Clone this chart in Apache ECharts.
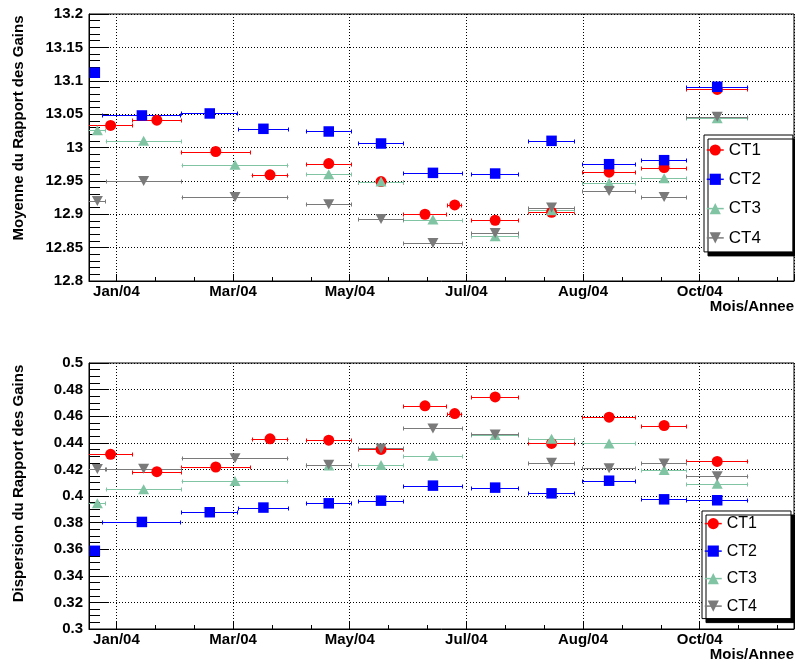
<!DOCTYPE html>
<html>
<head>
<meta charset="utf-8">
<script src="https://cdn.jsdelivr.net/npm/echarts@6/dist/echarts.min.js"></script>
<style>
html,body{margin:0;padding:0;background:#ffffff;}
#chart{width:795px;height:665px;}
</style>
</head>
<body>
<div id="chart"></div>
<script>
// ---------- data ----------
// x positions: days counted from the first labelled tick (Jan/04); ticks every 60 days
const xTickLabels = ['Jan/04', 'Mar/04', 'May/04', 'Jul/04', 'Aug/04', 'Oct/04'];
const xTickStepDays = 60;
const xTitle = 'Mois/Annee';
const meanTitle = 'Moyenne du Rapport des Gains';
const dispTitle = 'Dispersion du Rapport des Gains';
const seriesNames = ['CT1', 'CT2', 'CT3', 'CT4'];

const ct1Days = [-3.0, 20.8, 51.1, 79.0, 109.2, 136.1, 158.7, 174.0, 194.8, 223.8, 253.4, 281.7, 309.0];
const ct1HalfWidth = [11.6, 12.7, 18.0, 9.5, 11.75, 11.75, 11.3, 3.9, 12.2, 11.9, 13.7, 11.7, 15.95];
const ct1Mean = [13.033, 13.041, 12.994, 12.959, 12.976, 12.949, 12.900, 12.914, 12.891, 12.903, 12.963, 12.970, 13.087];
const ct1Disp = [0.4313, 0.4183, 0.4218, 0.4430, 0.4420, 0.4350, 0.4678, 0.4620, 0.4745, 0.4395, 0.4593, 0.4530, 0.4260];

const ct2Days = [-11.1, 13.1, 48.0, 75.6, 109.2, 136.1, 162.8, 194.8, 223.8, 253.4, 281.7, 309.0];
const ct2HalfWidth = [2.6, 20.3, 14.6, 12.95, 11.75, 11.75, 15.4, 12.2, 11.9, 13.7, 11.7, 15.95];
const ct2Mean = [13.112, 13.048, 13.051, 13.028, 13.024, 13.006, 12.962, 12.961, 13.010, 12.975, 12.981, 13.091];
const ct2Disp = [0.3588, 0.3805, 0.3878, 0.3913, 0.3945, 0.3965, 0.4078, 0.4063, 0.4020, 0.4115, 0.3975, 0.3968];

const ct3Days = [-9.8, 14.0, 61.0, 109.2, 136.1, 162.8, 194.8, 223.8, 253.4, 281.7, 309.0];
const ct3HalfWidth = [4.3, 19.5, 27.5, 11.75, 11.75, 15.4, 12.2, 11.9, 13.7, 11.7, 15.95];
const ct3Mean = [13.026, 13.010, 12.974, 12.960, 12.949, 12.892, 12.867, 12.906, 12.947, 12.954, 13.044];
const ct3Disp = [0.3945, 0.4050, 0.4113, 0.4230, 0.4233, 0.4303, 0.4458, 0.4430, 0.4395, 0.4195, 0.4093];

const ct4Days = [-9.8, 14.0, 61.0, 109.2, 136.1, 162.8, 194.8, 223.8, 253.4, 281.7, 309.0];
const ct4HalfWidth = [4.3, 19.5, 27.5, 11.75, 11.75, 15.4, 12.2, 11.9, 13.7, 11.7, 15.95];
const ct4Mean = [12.920, 12.950, 12.926, 12.915, 12.893, 12.857, 12.872, 12.910, 12.935, 12.926, 13.046];
const ct4Disp = [0.4203, 0.4205, 0.4283, 0.4235, 0.4358, 0.4508, 0.4463, 0.4250, 0.4208, 0.4245, 0.4148];

// ---------- styling ----------
const FONT = 'Liberation Sans';
const styles = [
  { color: '#ff0000', symbol: 'circle', size: 11, rotate: 0 },
  { color: '#0000ff', symbol: 'rect', size: 10.5, rotate: 0 },
  { color: '#80c4a4', symbol: 'triangle', size: [11, 10], rotate: 0 },
  { color: '#7a7a7a', symbol: 'triangle', size: [11, 10], rotate: 180 }
];
const groups = [
  { days: ct1Days, half: ct1HalfWidth, vals: [ct1Mean, ct1Disp] },
  { days: ct2Days, half: ct2HalfWidth, vals: [ct2Mean, ct2Disp] },
  { days: ct3Days, half: ct3HalfWidth, vals: [ct3Mean, ct3Disp] },
  { days: ct4Days, half: ct4HalfWidth, vals: [ct4Mean, ct4Disp] }
];

function errRender(color) {
  return function (params, api) {
    const x = api.value(0), h = api.value(1), y = api.value(2);
    const cs = params.coordSys;
    const a = api.coord([x - h, y]);
    const b = api.coord([x + h, y]);
    const left = cs.x, right = cs.x + cs.width;
    const x0 = Math.max(a[0], left), x1 = Math.min(b[0], right);
    const yy = Math.round(a[1]) + 0.5;
    const st = { stroke: color, lineWidth: 1 };
    const children = [{ type: 'line', shape: { x1: x0, y1: yy, x2: x1, y2: yy }, style: st }];
    if (a[0] >= left) children.push({ type: 'line', shape: { x1: Math.round(a[0]) + 0.5, y1: yy - 2, x2: Math.round(a[0]) + 0.5, y2: yy + 2 }, style: st });
    if (b[0] <= right) children.push({ type: 'line', shape: { x1: Math.round(b[0]) - 0.5, y1: yy - 2, x2: Math.round(b[0]) - 0.5, y2: yy + 2 }, style: st });
    return { type: 'group', children: children };
  };
}

const series = [];
[0, 1].forEach(function (p) {
  groups.forEach(function (g, k) {
    const s = styles[k];
    series.push({
      type: 'custom',
      name: seriesNames[k] + ' err',
      xAxisIndex: p, yAxisIndex: p,
      dimensions: ['x', 'half', 'y'],
      encode: { x: 0, y: 2 },
      data: g.days.map(function (d, i) { return [d, g.half[i], g.vals[p][i]]; }),
      renderItem: errRender(s.color),
      silent: true
    });
    series.push({
      type: 'line',
      name: seriesNames[k],
      xAxisIndex: p, yAxisIndex: p,
      data: g.days.map(function (d, i) { return [d, g.vals[p][i]]; }),
      color: s.color,
      symbol: s.symbol,
      symbolSize: s.size,
      symbolRotate: s.rotate,
      showSymbol: true,
      showAllSymbol: true,
      lineStyle: { width: 0, color: s.color },
      itemStyle: { color: s.color, borderWidth: 0 },
      silent: true
    });
  });
});

function xAxisDef(gridIndex) {
  return {
    type: 'value', gridIndex: gridIndex,
    min: -14.1, max: 348.5,
    minInterval: xTickStepDays, maxInterval: xTickStepDays,
    name: xTitle, nameLocation: 'end', nameGap: 0, nameMoveOverlap: false,
    nameTextStyle: { fontFamily: FONT, fontWeight: 'bold', fontSize: 15, color: '#000', align: 'right', verticalAlign: 'top', padding: [18, 0, 0, 0] },
    axisLine: { show: true, onZero: false, lineStyle: { color: '#000', width: 1 } },
    axisTick: { show: true, inside: true, length: 7, lineStyle: { color: '#000' } },
    minorTick: { show: true, splitNumber: 3, length: 4, lineStyle: { color: '#000' } },
    splitLine: { show: true, lineStyle: { color: '#000', type: [1, 2], width: 1 } },
    axisLabel: {
      show: true, margin: 3, fontFamily: FONT, fontWeight: 'bold', fontSize: 15, color: '#000',
      formatter: function (v) {
        const i = v / xTickStepDays;
        const r = Math.round(i);
        if (Math.abs(i - r) > 1e-6 || r < 0 || r >= xTickLabels.length) return '';
        return xTickLabels[r];
      }
    }
  };
}

function yAxisDef(gridIndex, min, max, interval, minorSplit, title, shift) {
  return {
    type: 'value', gridIndex: gridIndex,
    min: min, max: max, interval: interval,
    name: title, nameLocation: 'middle', nameRotate: 90, nameGap: 63, nameMoveOverlap: false,
    nameTextStyle: { fontFamily: FONT, fontWeight: 'bold', fontSize: 15, color: '#000', padding: [0, 0, 0, shift] },
    axisLine: { show: true, onZero: false, lineStyle: { color: '#000', width: 1 } },
    axisTick: { show: true, inside: true, length: 20, lineStyle: { color: '#000' } },
    minorTick: { show: true, splitNumber: minorSplit, length: 11, lineStyle: { color: '#000' } },
    splitLine: { show: true, lineStyle: { color: '#000', type: [1, 2], width: 1 } },
    axisLabel: { show: true, margin: 6, fontFamily: FONT, fontWeight: 'bold', fontSize: 15, color: '#000' }
  };
}

function legendDef(left, top, fontSize, gap, padding) {
  return {
    show: true, orient: 'vertical', left: left, top: top,
    data: seriesNames, selectedMode: false,
    itemWidth: 17, itemHeight: 14, itemGap: gap, padding: padding,
    backgroundColor: '#ffffff', borderColor: '#000000', borderWidth: 1, borderRadius: 0,
    shadowColor: '#000000', shadowBlur: 0, shadowOffsetX: 4, shadowOffsetY: 4,
    textStyle: { fontFamily: FONT, fontSize: fontSize, color: '#000' },
    lineStyle: { width: 1.5, opacity: 1 }
  };
}

const chart = echarts.init(document.getElementById('chart'), null, { renderer: 'canvas' });
chart.setOption({
  animation: false,
  backgroundColor: '#ffffff',
  grid: [
    { left: 89, top: 14, width: 705, height: 267, show: true, borderColor: '#000', borderWidth: 1, backgroundColor: 'transparent', containLabel: false, outerBoundsMode: 'none' },
    { left: 89, top: 363, width: 705, height: 266, show: true, borderColor: '#000', borderWidth: 1, backgroundColor: 'transparent', containLabel: false, outerBoundsMode: 'none' }
  ],
  xAxis: [xAxisDef(0), xAxisDef(1)],
  yAxis: [
    yAxisDef(0, 12.8, 13.2, 0.05, 5, meanTitle, 39),
    yAxisDef(1, 0.3, 0.5, 0.02, 4, dispTitle, 25)
  ],
  legend: [
    legendDef(704, 135, 17, 12.3, [6.5, 32, 5.5, 2]),
    legendDef(702, 511, 16, 11.5, [4.6, 34, 4.5, 2])
  ],
  tooltip: { show: false },
  series: series
});
</script>
</body>
</html>
